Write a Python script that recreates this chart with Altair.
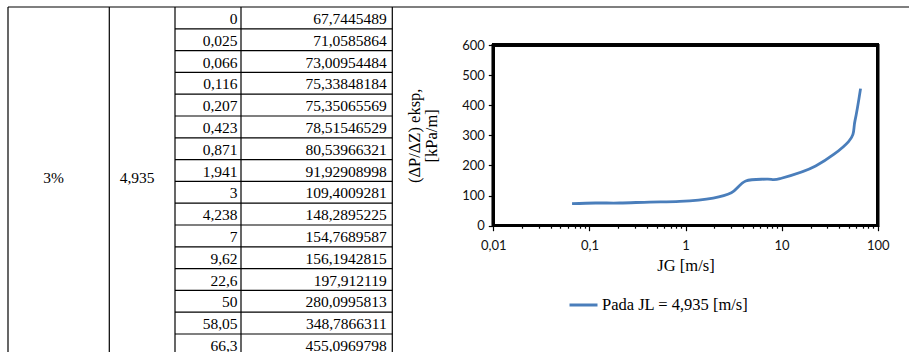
import altair as alt
import pandas as pd

# ---------------- data ----------------
concentration = "3%"
jl_text = "4,935"
jg = [0, 0.025, 0.066, 0.116, 0.207, 0.423, 0.871, 1.941, 3, 4.238, 7, 9.62, 22.6, 50, 58.05, 66.3]
dp = [67.7445489, 71.0585864, 73.00954484, 75.33848184, 75.35065569, 78.51546529, 80.53966321,
      91.92908998, 109.4009281, 148.2895225, 154.7689587, 156.1942815, 197.912119, 280.0995813,
      348.7866311, 455.0969798]
series_name = "Pada JL = 4,935 [m/s]"
x_ticks = [0.01, 0.1, 1, 10, 100]
y_ticks = [0, 100, 200, 300, 400, 500, 600]

# ---------------- layout constants ----------------
W, H = 901, 345
ROW_H = 21.8
n_rows = len(jg)
edge_px = [0, 101.3, 167, 233, 384.3, 901]  # table column edges (view px)
serif = "Liberation Serif"

def fmt(v):
    return str(v).replace(".", ",")

# ---------------- table ----------------
col_scale = alt.Scale(domain=list(range(len(edge_px))), range=edge_px, nice=False, zero=False)
row_scale = alt.Scale(domain=[0, n_rows], range=[0, n_rows * ROW_H], nice=False, zero=False)

h_df = pd.DataFrame({"k": list(range(n_rows + 1)),
                     "x0": [0] + [2] * n_rows,
                     "x1": [5] + [4] * n_rows})
v_df = pd.DataFrame({"e": [0, 1, 2, 3, 4], "y0": [0] * 5, "y1": [n_rows] * 5})
rows_df = pd.DataFrame({"jg_s": [fmt(v) for v in jg],
                        "dp_s": [fmt(v) for v in dp],
                        "bottom": [i + 1 for i in range(n_rows)],
                        "c3": [3] * n_rows, "c4": [4] * n_rows})
merged_df = pd.DataFrame({"txt": [concentration, jl_text], "cx": [0.5, 1.5],
                          "cy": [n_rows / 2, n_rows / 2]})

hrules = alt.Chart(h_df).mark_rule(color="black", strokeWidth=1.2).encode(
    x=alt.X("x0:Q", scale=col_scale, axis=None), x2="x1:Q",
    y=alt.Y("k:Q", scale=row_scale, axis=None))
vrules = alt.Chart(v_df).mark_rule(color="black", strokeWidth=1.2).encode(
    x=alt.X("e:Q", scale=col_scale, axis=None),
    y=alt.Y("y0:Q", scale=row_scale, axis=None), y2="y1:Q")
jg_txt = alt.Chart(rows_df).mark_text(align="right", baseline="alphabetic", dx=-3.5, dy=-4.8,
                                      font=serif, fontSize=15.5, color="black").encode(
    x=alt.X("c3:Q", scale=col_scale, axis=None),
    y=alt.Y("bottom:Q", scale=row_scale, axis=None), text="jg_s:N")
dp_txt = alt.Chart(rows_df).mark_text(align="right", baseline="alphabetic", dx=-5.5, dy=-4.8,
                                      font=serif, fontSize=15.5, color="black").encode(
    x=alt.X("c4:Q", scale=col_scale, axis=None),
    y=alt.Y("bottom:Q", scale=row_scale, axis=None), text="dp_s:N")
merged_txt = alt.Chart(merged_df).mark_text(align="center", baseline="alphabetic", dx=-5, dy=2,
                                            font=serif, fontSize=15.5, color="black").encode(
    x=alt.X("cx:Q", scale=col_scale, axis=None),
    y=alt.Y("cy:Q", scale=row_scale, axis=None), text="txt:N")

table = alt.layer(hrules, vrules, jg_txt, dp_txt, merged_txt)

# ---------------- line chart ----------------
line_df = pd.DataFrame({"JG": jg[2:], "dP": dp[2:], "series": [series_name] * (n_rows - 2)})

x_scale = alt.Scale(type="log", domain=[0.01, 100], range=[485.3, 869.7], nice=False)
y_scale = alt.Scale(domain=[0, 600], range=[218.7, 38], nice=False, zero=False)

minor = [m * 10 ** e for e in [-2, -1, 0, 1] for m in range(1, 10)] + [100]
decade = "abs(log(datum.value)/LN10 - round(log(datum.value)/LN10)) < 0.000001"

x_axis = alt.Axis(orient="bottom", offset=-(H - 218.7), values=minor, format="~g",
                  labelExpr=f"({decade}) ? replace(datum.label, '.', ',') : ''",
                  tickSize={"condition": {"test": decade, "value": 5}, "value": 2.5},
                  tickColor="black", tickWidth=1.2, domain=False, grid=False,
                  labelFont="Lato", labelFontSize=13, labelColor="#111",
                  labelPadding=9, labelOverlap=False, labelFlush=False, labelBound=False,
                  title="JG [m/s]", titleFont=serif, titleFontSize=16.5,
                  titleFontWeight="normal", titleColor="black", titlePadding=5)
y_axis = alt.Axis(orient="left", offset=-485.3, values=y_ticks,
                  tickSize=5, tickColor="black", tickWidth=1.2, domain=False, grid=False,
                  labelFont="Lato", labelFontSize=13, labelColor="#111", labelPadding=4,
                  title=["(ΔP/ΔZ) eksp,", "[kPa/m]"], titleFont=serif, titleFontSize=16.5,
                  titleFontWeight="normal", titleColor="black", titleLineHeight=17,
                  titlePadding=22)

line = alt.Chart(line_df).mark_line(interpolate="cardinal", strokeWidth=2.8).encode(
    x=alt.X("JG:Q", scale=x_scale, axis=x_axis),
    y=alt.Y("dP:Q", scale=y_scale, axis=y_axis),
    color=alt.Color("series:N", scale=alt.Scale(range=["#4A7EBB"]),
                    legend=alt.Legend(orient="none", legendX=560, legendY=282.5, title=None,
                                      symbolType="stroke", symbolStrokeWidth=3, symbolSize=784,
                                      labelFont=serif, labelFontSize=16.5, labelColor="black",
                                      labelOffset=3, padding=0)))
frame = alt.Chart(line_df).mark_rect(fillOpacity=0, stroke="black", strokeWidth=2.7).encode(
    x=alt.datum(x_ticks[0]), x2=alt.datum(x_ticks[-1]),
    y=alt.datum(y_ticks[0]), y2=alt.datum(y_ticks[-1]))

plot = alt.layer(line, frame)

chart = alt.layer(table, plot).resolve_scale(x="independent", y="independent").properties(
    width=W, height=H,
    padding={"left": 8, "top": 7, "right": 0, "bottom": 0},
    autosize=alt.AutoSizeParams(type="none"),
    background="white",
).configure_view(stroke=None)

chart.save("out.html", embed_options={"renderer": "svg", "actions": False})
